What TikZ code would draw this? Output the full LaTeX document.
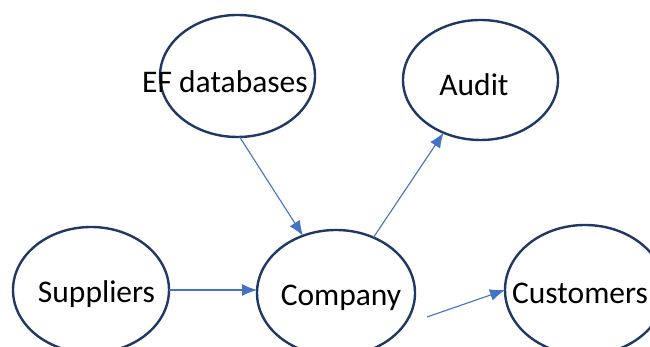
\documentclass[tikz,border=0pt]{standalone}
\usepackage{fontspec}
\setmainfont{Carlito}
\usetikzlibrary{shapes.geometric,arrows.meta}
\definecolor{ringcol}{HTML}{1F3864}
\definecolor{arrowcol}{HTML}{4472C4}
\tikzset{
  ring/.style={ellipse, draw=ringcol, line width=2.4pt, inner sep=0pt, outer sep=0pt},
  lbl/.style={anchor=base, inner sep=0pt, font=\fontsize{31.5pt}{36pt}\selectfont, text=black},
  conn/.style={draw=arrowcol, line width=1.1pt, -{Latex[length=15pt,width=12pt]}}
}
\begin{document}
\begin{tikzpicture}[x=1pt,y=1pt]
\useasboundingbox[fill=white] (0,0) rectangle (650,347);
\node[ring, minimum width=155pt, minimum height=122pt] (ef) at (237.5,271) {};
\node[ring, minimum width=155pt, minimum height=120pt] (audit) at (480.5,267) {};
\node[ring, minimum width=156pt, minimum height=126pt] (sup) at (91,57) {};
\node[ring, minimum width=158pt, minimum height=126pt] (comp) at (336,54) {};
\node[ring, minimum width=160pt, minimum height=130pt] (cust) at (585,57) {};
\node[lbl] (efT) at (225,254) {EF databases};
\node[lbl] (auditT) at (474,251) {Audit};
\node[lbl] (supT) at (96.5,44) {Suppliers};
\node[lbl] (compT) at (341,41) {Company};
\node[lbl] (custT) at (580,43) {Customers};
\coordinate (custStart) at (427,30);
\draw[conn] (ef.-88) -- (comp.120);
\draw[conn] (comp.56) -- (audit.235);
\draw[conn] (sup.east) -- (sup.east -| comp.west);
\draw[conn] (custStart) -- (cust.west);
\end{tikzpicture}
\end{document}
